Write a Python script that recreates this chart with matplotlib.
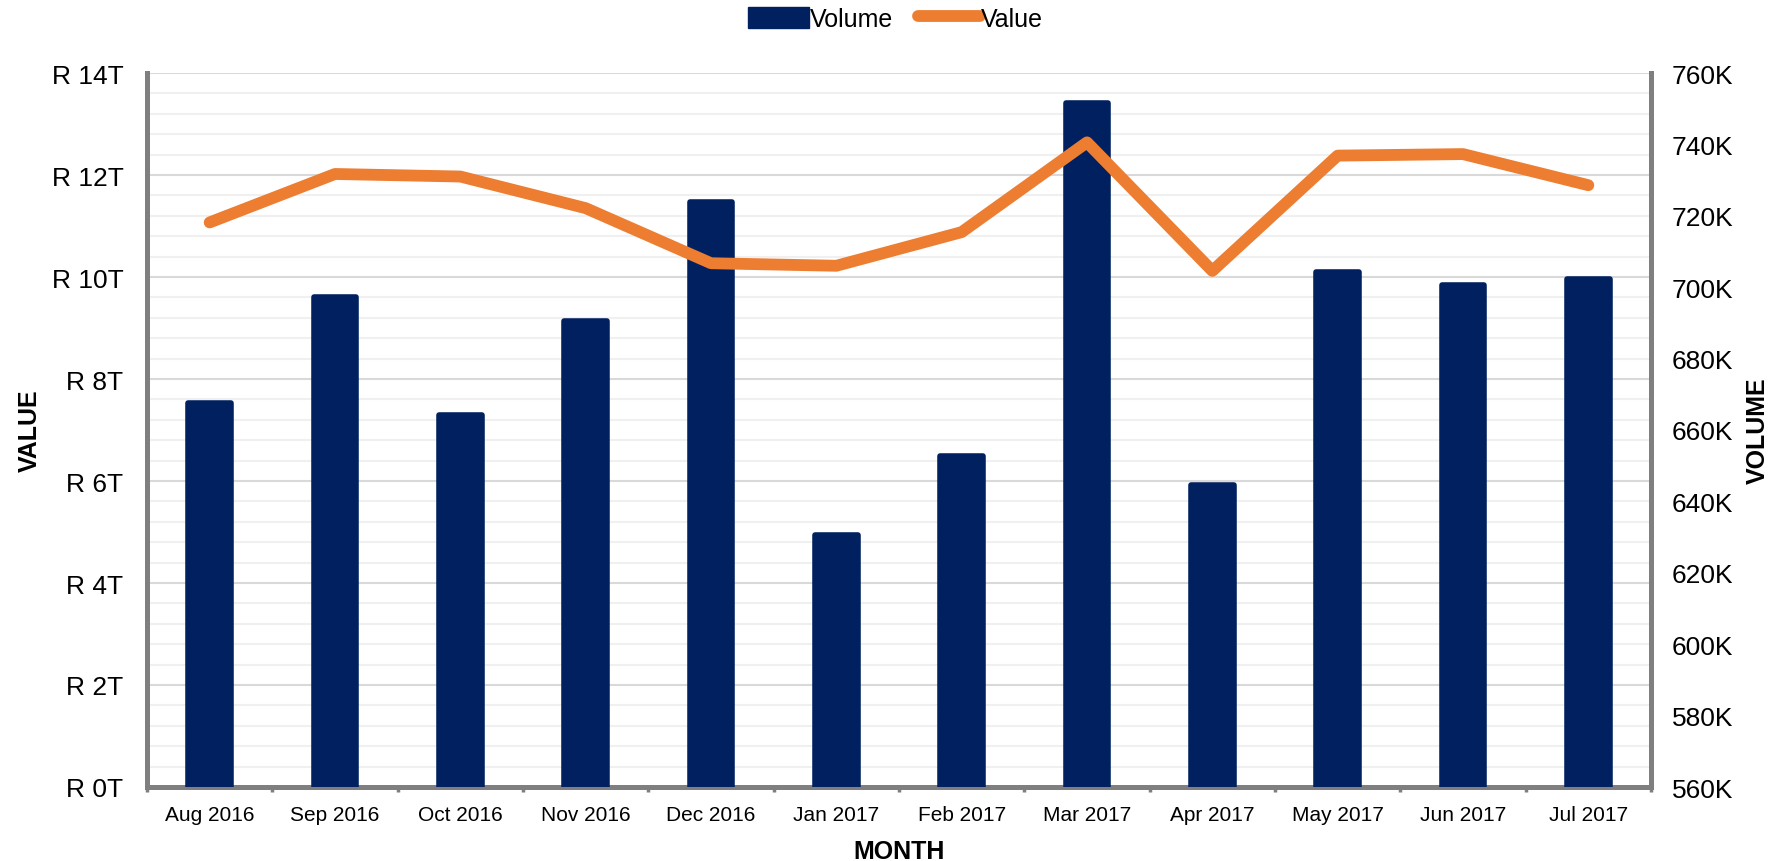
import matplotlib
matplotlib.use("Agg")
import matplotlib.pyplot as plt
from matplotlib.ticker import FuncFormatter, MultipleLocator, FixedLocator
from matplotlib.patches import Patch
from matplotlib.lines import Line2D

plt.rcParams['font.family'] = ['Liberation Sans', 'DejaVu Sans']

months = ["Aug 2016", "Sep 2016", "Oct 2016", "Nov 2016", "Dec 2016", "Jan 2017",
          "Feb 2017", "Mar 2017", "Apr 2017", "May 2017", "Jun 2017", "Jul 2017"]
# volume in thousands (right axis)
volume_k = [667.6, 697.3, 664.1, 690.5, 723.8, 630.6, 652.8, 751.5, 644.5, 704.2, 700.7, 702.3]
# value in trillions of rand (left axis)
value_t = [11.07, 12.02, 11.97, 11.35, 10.27, 10.22, 10.88, 12.64, 10.12, 12.38, 12.41, 11.80]

NAVY = '#002060'
ORANGE = '#ED7D31'
SPINE = '#7F7F7F'

fig = plt.figure(figsize=(17.73, 8.62), dpi=100)
# base axis: value scale, gridlines, left labels, spines
ax = fig.add_axes([147 / 1773, 1 - 788 / 862, (1651 - 147) / 1773, (788 - 74) / 862])
axb = ax.twinx()   # volume bars
axl = ax.twinx()   # value line, drawn on top

x = list(range(len(months)))

ax.set_ylim(0, 14)
ax.yaxis.set_major_locator(MultipleLocator(2))
ax.yaxis.set_minor_locator(MultipleLocator(0.4))
ax.yaxis.set_major_formatter(FuncFormatter(lambda v, p: f"R {v:.0f}T"))
ax.grid(which='major', axis='y', color='#D9D9D9', linewidth=1.5)
ax.grid(which='minor', axis='y', color='#F0F0F0', linewidth=1.5)
ax.tick_params(axis='y', which='both', length=0, labelsize=19, pad=17)

# bars
axb.bar(x, volume_k, width=0.34, color=NAVY, edgecolor=NAVY, linewidth=4,
        joinstyle='round')
axb.set_ylim(560, 760)
axb.yaxis.set_major_locator(MultipleLocator(20))
axb.yaxis.set_major_formatter(FuncFormatter(lambda v, p: f"{v:.0f}K"))
axb.tick_params(axis='y', which='both', length=0, labelsize=19, pad=15)

# line
axl.plot(x, value_t, color=ORANGE, linewidth=8.5, solid_capstyle='round',
         solid_joinstyle='round')
axl.set_ylim(0, 14)
axl.yaxis.set_visible(False)

for a in (axb, axl):
    for s in a.spines.values():
        s.set_visible(False)

# x axis
ax.set_xlim(-0.5, len(months) - 0.5)
ax.set_xticks(x)
ax.set_xticklabels(months)
ax.xaxis.set_minor_locator(FixedLocator([i - 0.5 for i in range(len(months) + 1)]))
ax.tick_params(axis='x', which='major', length=0, labelsize=15, pad=13)
ax.tick_params(axis='x', which='minor', length=3.5, width=2.5, color=SPINE, direction='out')

ax.spines['top'].set_visible(False)
for side in ('left', 'right', 'bottom'):
    ax.spines[side].set_color(SPINE)
    ax.spines[side].set_linewidth(3.6)
    ax.spines[side].set_zorder(5)

# axis labels
ax.set_xlabel("MONTH", fontsize=18, fontweight='bold')
ax.xaxis.label.set_va('baseline')
ax.xaxis.set_label_coords(0.5, -(859 - 788) / 714)
ax.set_ylabel("VALUE", fontsize=18, fontweight='bold')
ax.yaxis.label.set_va('center')
ax.yaxis.set_label_coords(-(147 - 29.5) / 1504, 0.5)
axb.set_ylabel("VOLUME", fontsize=18, fontweight='bold', rotation=90)
axb.yaxis.label.set_va('center')
axb.yaxis.set_label_coords((1758 - 147) / 1504, 0.5)

# legend
handles = [Patch(facecolor=NAVY, edgecolor=NAVY, label='Volume'),
           Line2D([0], [0], color=ORANGE, linewidth=8.5, solid_capstyle='round', label='Value')]
fig.legend(handles=handles, loc='center', bbox_to_anchor=(0.505, 0.977), ncol=2,
           frameon=False, fontsize=18, handlelength=2.45, handleheight=0.9,
           handletextpad=0.05, columnspacing=1.0)

fig.savefig("out.png", dpi=100)
